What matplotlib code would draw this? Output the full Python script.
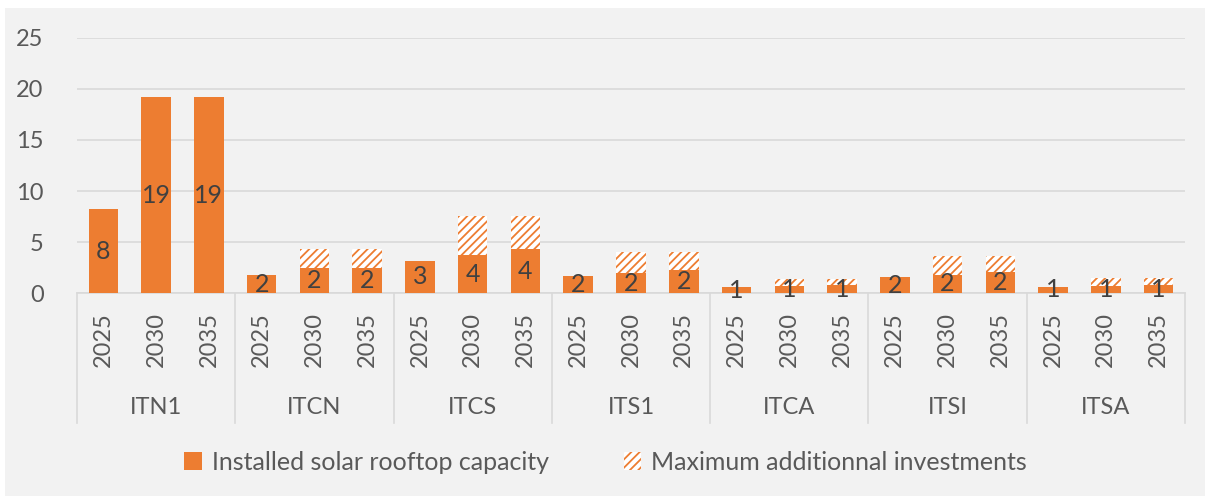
import matplotlib.pyplot as plt
from matplotlib.patches import Rectangle
import numpy as np

plt.rcParams['font.family'] = ['Lato', 'DejaVu Sans']
plt.rcParams['hatch.linewidth'] = 1.3

# Data
regions = ["ITN1", "ITCN", "ITCS", "ITS1", "ITCA", "ITSI", "ITSA"]
years = ["2025", "2030", "2035"]
installed = [8.2, 19.2, 19.2,
             1.8, 2.45, 2.45,
             3.2, 3.75, 4.33,
             1.7, 2.0, 2.28,
             0.62, 0.68, 0.81,
             1.6, 1.83, 2.12,
             0.65, 0.71, 0.84]
additional = [0, 0, 0,
              0, 1.9, 1.9,
              0, 3.8, 3.23,
              0, 2.07, 1.79,
              0, 0.72, 0.59,
              0, 1.85, 1.56,
              0, 0.76, 0.63]

orange = "#ED7D31"
txt = "#595959"

fig = plt.figure(figsize=(12.11, 4.99), dpi=100, facecolor="white")
fig.patches.append(Rectangle((5 / 1211, 3 / 499), 1200 / 1211, 488 / 499,
                             transform=fig.transFigure, facecolor="#F2F2F2",
                             edgecolor="none", zorder=-10))
ax = fig.add_axes([77 / 1211, 1 - 293.3 / 499, 1108 / 1211, 255.6 / 499])
ax.set_facecolor("none")

x = np.arange(len(installed))
ax.bar(x, installed, width=0.56, color=orange, linewidth=0, zorder=3,
       label="Installed solar rooftop capacity")
ax.bar(x, additional, width=0.56, bottom=installed, facecolor="white",
       edgecolor=orange, hatch="////", linewidth=0, zorder=3,
       label="Maximum additionnal investments")

for xi, v in zip(x, installed):
    ax.text(xi, v / 2, f"{round(v)}", ha="center", va="center",
            fontsize=18, color="#404040", zorder=5)

ax.set_xlim(-0.5, len(installed) - 0.5)
ax.set_ylim(0, 25)
ax.set_yticks([0, 5, 10, 15, 20, 25])
ax.grid(axis="y", color="#D9D9D9", linewidth=1.2, zorder=0)
ax.tick_params(axis="y", length=0, labelsize=17, labelcolor=txt, pad=24)
ax.set_xticks([])
for s in ["top", "right", "left"]:
    ax.spines[s].set_visible(False)
ax.spines["bottom"].set_color("#D9D9D9")
ax.spines["bottom"].set_linewidth(1.2)

# year labels and region labels under the axis
trans = ax.get_xaxis_transform()
for i, xi in enumerate(x):
    ax.text(xi, -0.18, years[i % 3], rotation=90, ha="center", va="center",
            fontsize=17, color=txt, transform=trans)
for g, name in enumerate(regions):
    ax.text(g * 3 + 1, -0.445, name, ha="center", va="center",
            fontsize=17, color=txt, transform=trans)
for b in np.arange(-0.5, len(installed), 3):
    ax.plot([b, b], [0, -0.508], color="#D9D9D9", linewidth=1.2,
            transform=trans, clip_on=False)

fig.legend(loc="center", bbox_to_anchor=(0.5, 1 - 462 / 499), ncol=2,
           frameon=False, fontsize=18, labelcolor=txt, handlelength=0.7,
           handleheight=0.7, handletextpad=0.4, columnspacing=3.0)

fig.savefig("out.png", dpi=100, facecolor="white")
